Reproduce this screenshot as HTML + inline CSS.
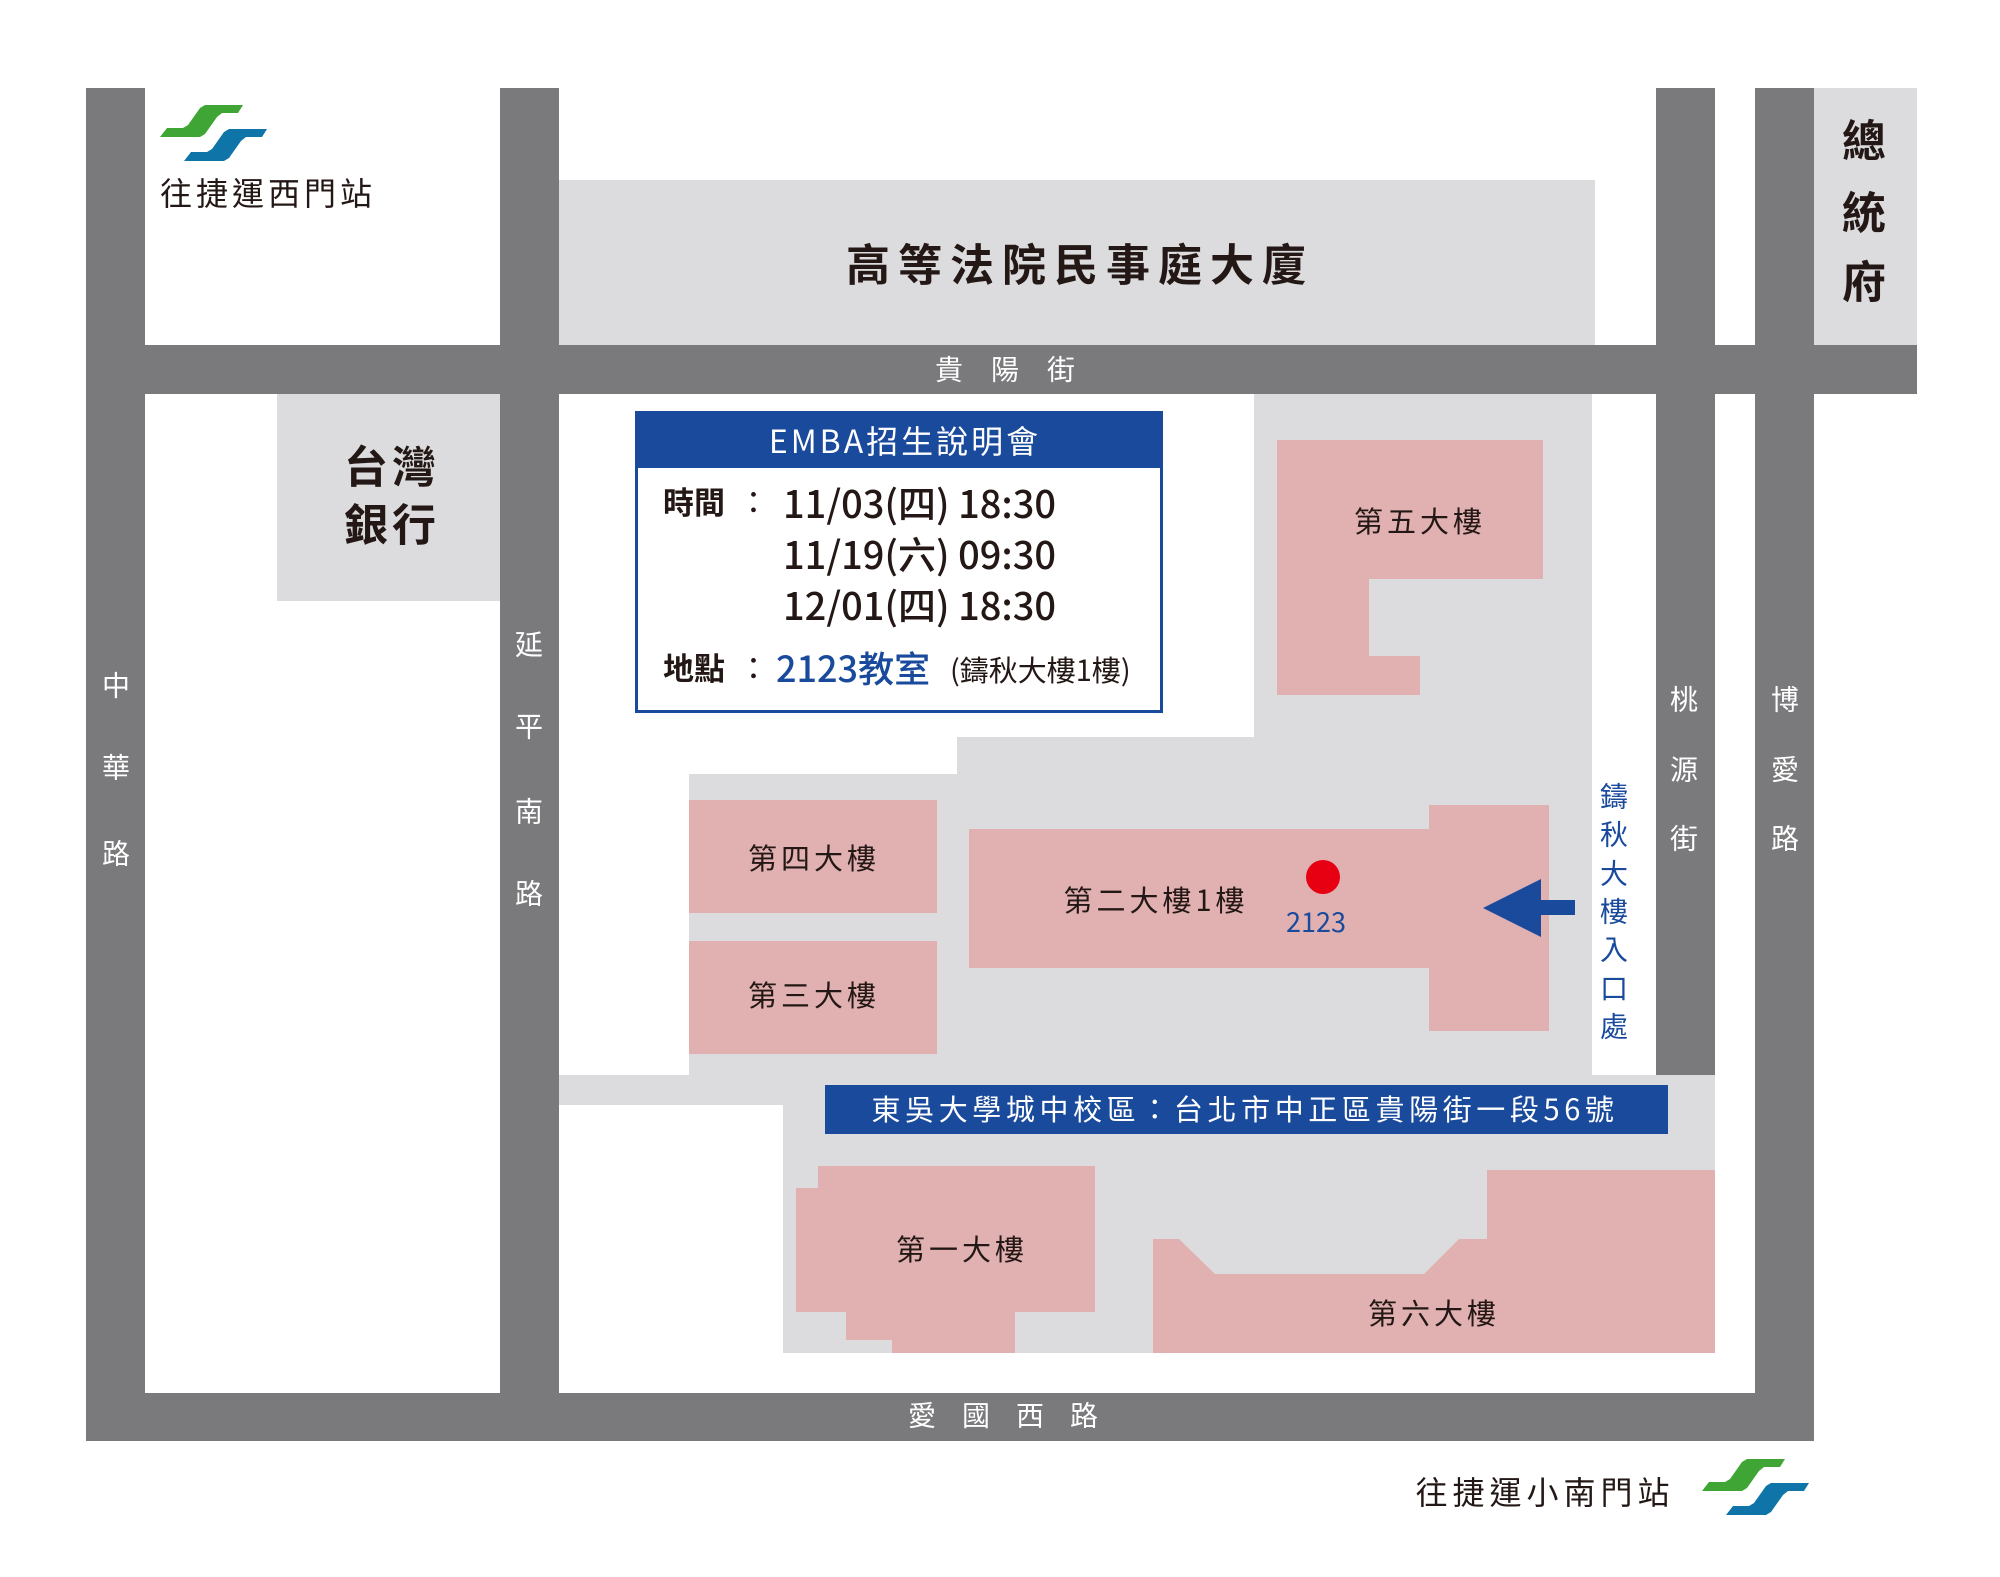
<!DOCTYPE html>
<html><head><meta charset="utf-8">
<style>
html,body{margin:0;padding:0;background:#fff;}
body{width:2000px;height:1577px;position:relative;overflow:hidden;font-family:"Liberation Sans","Noto Sans CJK TC",sans-serif;color:#231815;}
div{position:absolute;box-sizing:border-box;}
.r{background:#7a7a7c;}
.g{background:#dcdcde;}
.p{background:#e1b0b1;}
.c{transform:translate(-50%,-56%);white-space:nowrap;line-height:1;}
.w{color:#fff;font-size:28px;}
.b{color:#1a4a9c;}
.n{font-family:"Noto Sans CJK TC","Liberation Sans",sans-serif;}
</style></head><body>
<div class="g" style="left:559px;top:180px;width:1036px;height:166px"></div>
<div class="g" style="left:1814px;top:88px;width:103px;height:258px"></div>
<div class="g" style="left:277px;top:394px;width:224px;height:207px"></div>
<div class="g" style="left:1254px;top:394px;width:338px;height:681px"></div>
<div class="g" style="left:957px;top:737px;width:635px;height:338px"></div>
<div class="g" style="left:689px;top:774px;width:903px;height:301px"></div>
<div class="g" style="left:559px;top:1075px;width:1156px;height:30px"></div>
<div class="g" style="left:783px;top:1105px;width:932px;height:248px"></div>

<div class="r" style="left:86px;top:88px;width:59px;height:1353px"></div>
<div class="r" style="left:500px;top:88px;width:59px;height:1353px"></div>
<div class="r" style="left:1656px;top:88px;width:59px;height:987px"></div>
<div class="r" style="left:1755px;top:88px;width:59px;height:1353px"></div>
<div class="r" style="left:86px;top:345px;width:1831px;height:49px"></div>
<div class="r" style="left:86px;top:1393px;width:1728px;height:48px"></div>

<div class="p" style="left:1277px;top:440px;width:266px;height:139px"></div>
<div class="p" style="left:1277px;top:579px;width:92px;height:116px"></div>
<div class="p" style="left:1369px;top:656px;width:51px;height:39px"></div>
<div class="p" style="left:689px;top:800px;width:248px;height:113px"></div>
<div class="p" style="left:689px;top:941px;width:248px;height:113px"></div>
<div class="p" style="left:969px;top:829px;width:460px;height:139px"></div>
<div class="p" style="left:1429px;top:805px;width:120px;height:226px"></div>
<div class="p" style="left:818px;top:1166px;width:277px;height:146px"></div>
<div class="p" style="left:796px;top:1188px;width:22px;height:124px"></div>
<div class="p" style="left:846px;top:1312px;width:169px;height:28px"></div>
<div class="p" style="left:892px;top:1340px;width:123px;height:13px"></div>
<svg style="position:absolute;left:0;top:0" width="2000" height="1577">
<polygon fill="#e1b0b1" points="1153,1239 1179,1239 1215,1274 1424,1274 1459,1239 1487,1239 1487,1170 1715,1170 1715,1353 1153,1353"/>
<circle cx="1323" cy="877" r="17" fill="#e60012"/>
<polygon fill="#1a4a9c" points="1483,908 1541,879 1541,900 1575,900 1575,915 1541,915 1541,937"/>
</svg>

<div style="left:635px;top:411px;width:528px;height:302px;border:3px solid #1a4a9c;background:#fff"></div>
<div style="left:635px;top:411px;width:528px;height:57px;background:#1a4a9c"></div>
<div class="c n" style="left:905px;top:442px;color:#fff;font-size:32px;letter-spacing:3px">EMBA招生說明會</div>
<div class="n" style="left:663px;top:481px;font-size:31px;line-height:40px;font-weight:bold">時間</div>
<div class="n" style="left:738px;top:481px;font-size:31px;line-height:40px">：</div>
<div class="n" style="left:783px;top:479px;font-size:38px;line-height:46px;white-space:nowrap;font-weight:500">11/03(四) 18:30</div>
<div class="n" style="left:783px;top:530px;font-size:38px;line-height:46px;white-space:nowrap;font-weight:500">11/19(六) 09:30</div>
<div class="n" style="left:783px;top:581px;font-size:38px;line-height:46px;white-space:nowrap;font-weight:500">12/01(四) 18:30</div>
<div class="n" style="left:663px;top:647px;font-size:31px;line-height:40px;font-weight:bold">地點</div>
<div class="n" style="left:738px;top:647px;font-size:31px;line-height:40px">：</div>
<div class="b n" style="left:776px;top:645px;font-size:36px;line-height:44px;white-space:nowrap;font-weight:500">2123教室</div>
<div class="n" style="left:950px;top:650px;font-size:29px;line-height:38px;white-space:nowrap">(鑄秋大樓1樓)</div>

<div style="left:825px;top:1085px;width:843px;height:49px;background:#1a4a9c"></div>
<div class="c n" style="left:1245px;top:1110px;color:#fff;font-size:29px;letter-spacing:4.6px">東吳大學城中校區：台北市中正區貴陽街一段56號</div>

<div class="c n" style="left:1080px;top:264px;font-size:44px;letter-spacing:8px;font-weight:bold">高等法院民事庭大廈</div>
<div class="c n" style="left:392px;top:466px;font-size:44px;font-weight:bold;letter-spacing:4px">台灣</div>
<div class="c n" style="left:392px;top:524px;font-size:44px;font-weight:bold;letter-spacing:4px">銀行</div>
<div class="c n" style="left:1864px;top:140px;font-size:44px;font-weight:bold">總</div>
<div class="c n" style="left:1864px;top:212px;font-size:44px;font-weight:bold">統</div>
<div class="c n" style="left:1864px;top:281px;font-size:44px;font-weight:bold">府</div>
<div class="c n" style="left:1420px;top:522px;font-size:29px;letter-spacing:4px">第五大樓</div>
<div class="c n" style="left:814px;top:859px;font-size:29px;letter-spacing:4px">第四大樓</div>
<div class="c n" style="left:814px;top:996px;font-size:29px;letter-spacing:4px">第三大樓</div>
<div class="c n" style="left:1156px;top:901px;font-size:29px;letter-spacing:4px">第二大樓1樓</div>
<div class="c b n" style="left:1316px;top:922px;font-size:27px">2123</div>
<div class="c n" style="left:962px;top:1250px;font-size:29px;letter-spacing:4px">第一大樓</div>
<div class="c n" style="left:1434px;top:1314px;font-size:29px;letter-spacing:4px">第六大樓</div>
<div class="c b n" style="left:1614px;top:797px;font-size:28px">鑄</div>
<div class="c b n" style="left:1614px;top:835px;font-size:28px">秋</div>
<div class="c b n" style="left:1614px;top:874px;font-size:28px">大</div>
<div class="c b n" style="left:1614px;top:912px;font-size:28px">樓</div>
<div class="c b n" style="left:1614px;top:950px;font-size:28px">入</div>
<div class="c b n" style="left:1614px;top:989px;font-size:28px">口</div>
<div class="c b n" style="left:1614px;top:1027px;font-size:28px">處</div>

<div class="c w n" style="left:949px;top:370px">貴</div>
<div class="c w n" style="left:1005px;top:370px">陽</div>
<div class="c w n" style="left:1061px;top:370px">街</div>
<div class="c w n" style="left:922px;top:1416px">愛</div>
<div class="c w n" style="left:976px;top:1416px">國</div>
<div class="c w n" style="left:1030px;top:1416px">西</div>
<div class="c w n" style="left:1084px;top:1416px">路</div>
<div class="c w n" style="left:116px;top:686px">中</div>
<div class="c w n" style="left:116px;top:768px">華</div>
<div class="c w n" style="left:116px;top:854px">路</div>
<div class="c w n" style="left:529px;top:645px">延</div>
<div class="c w n" style="left:529px;top:727px">平</div>
<div class="c w n" style="left:529px;top:812px">南</div>
<div class="c w n" style="left:529px;top:894px">路</div>
<div class="c w n" style="left:1684px;top:700px">桃</div>
<div class="c w n" style="left:1684px;top:770px">源</div>
<div class="c w n" style="left:1684px;top:839px">街</div>
<div class="c w n" style="left:1785px;top:700px">博</div>
<div class="c w n" style="left:1785px;top:770px">愛</div>
<div class="c w n" style="left:1785px;top:839px">路</div>

<svg style="position:absolute;left:150px;top:100px" width="130" height="70" viewBox="0 0 130 70">
<polygon fill="#3fa535" points="10,37 50,37 55,34 67,17 72,13 88,13 93,5 55,5 50,8 38,25 33,28 17,28"/>
<polygon fill="#0f74a8" points="34,61 74,61 79,58 91,41 96,37 112,37 117,29 79,29 74,32 62,49 57,52 41,52"/>
</svg>
<div class="c n" style="left:268px;top:194px;font-size:32px;letter-spacing:4px">往捷運西門站</div>
<svg style="position:absolute;left:1692px;top:1454px" width="130" height="70" viewBox="0 0 130 70">
<polygon fill="#3fa535" points="10,37 50,37 55,34 67,17 72,13 88,13 93,5 55,5 50,8 38,25 33,28 17,28"/>
<polygon fill="#0f74a8" points="34,61 74,61 79,58 91,41 96,37 112,37 117,29 79,29 74,32 62,49 57,52 41,52"/>
</svg>
<div class="c n" style="left:1545px;top:1493px;font-size:32px;letter-spacing:5px">往捷運小南門站</div>
</body></html>
